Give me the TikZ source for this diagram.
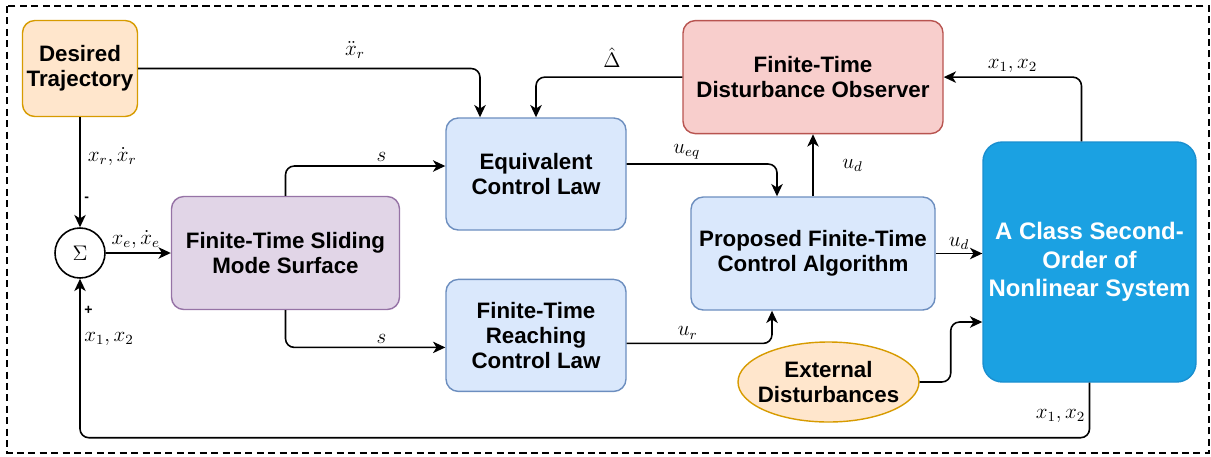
\documentclass[tikz,border=0pt]{standalone}
\usepackage{amsmath}
\usepackage{fontspec}
\setmainfont{Liberation Sans}
\usepackage{tikz}
\usetikzlibrary{arrows.meta, positioning, shapes.geometric, calc}
\definecolor{trajfill}{HTML}{FFE6CC}
\definecolor{trajdraw}{HTML}{D79B00}
\definecolor{smsfill}{HTML}{E1D5E7}
\definecolor{smsdraw}{HTML}{9673A6}
\definecolor{lawfill}{HTML}{DAE8FC}
\definecolor{lawdraw}{HTML}{6C8EBF}
\definecolor{obsfill}{HTML}{F8CECC}
\definecolor{obsdraw}{HTML}{B85450}
\definecolor{sysblue}{HTML}{1BA1E2}
\definecolor{sysdraw}{HTML}{1A8FD0}

\begin{document}
\begin{tikzpicture}[
  box/.style = {
    draw, rounded corners=7pt, line width=0.8pt,
    align=center, inner xsep=1pt, inner ysep=2pt,
    font=\fontsize{12.7}{14.2}\selectfont\bfseries
  },
  trajbox/.style = { box, draw=trajdraw, fill=trajfill, minimum width=2.3cm, minimum height=1.92cm },
  smsbox/.style  = { box, draw=smsdraw, fill=smsfill, minimum width=4.56cm, minimum height=2.26cm },
  lawbox/.style  = { box, draw=lawdraw, fill=lawfill, minimum width=3.6cm, minimum height=2.24cm },
  obsbox/.style  = { box, draw=obsdraw, fill=obsfill, minimum width=5.2cm, minimum height=2.26cm },
  sysbox/.style  = {
    box, draw=sysdraw, fill=sysblue, text=white, rounded corners=11pt,
    minimum width=4.26cm, minimum height=4.8cm,
    font=\fontsize{13.6}{16.1}\selectfont\bfseries
  },
  disturb/.style = {
    ellipse, draw=trajdraw, fill=trajfill, line width=0.8pt,
    minimum width=3.62cm, minimum height=1.6cm, inner xsep=-4pt, inner ysep=0pt,
    align=center, font=\fontsize{12.7}{14.2}\selectfont\bfseries
  },
  sumnode/.style = { circle, draw, line width=0.9pt, minimum size=1cm, inner sep=0pt },
  lbl/.style = { font=\large, inner sep=2pt },
  sgn/.style = { font=\footnotesize\bfseries, inner sep=2pt },
  arr/.style = { -{Stealth[length=7pt,width=6.5pt,inset=2pt]}, line width=0.9pt, rounded corners=5pt }
]

\useasboundingbox (0,0) rectangle (24.22,-9.12);
\draw[dashed, line width=0.7pt, dash pattern=on 4pt off 2.5pt] (0.14,-0.12) rectangle (24.18,-9.06);

\node[sumnode] (sum) at (1.60,-5.06) {\large$\Sigma$};
\node[trajbox, above=2.2cm of sum] (traj) {Desired\\Trajectory};
\node[smsbox, right=1.3cm of sum] (sms) {Finite-Time Sliding\\Mode Surface};
\node[lawbox] (eql) at (10.72,-3.48) {Equivalent\\Control Law};
\node[lawbox, below=0.96cm of eql] (reach) {Finite-Time\\Reaching\\Control Law};
\node[lawbox, minimum width=4.88cm, minimum height=2.26cm] (prop) at (16.26,-5.07) {Proposed Finite-Time\\Control Algorithm};
\node[obsbox, above=1.24cm of prop] (dob) {Finite-Time\\Disturbance Observer};
\node[disturb] (ext) at (16.57,-7.64) {External\\Disturbances};
\node[sysbox] (sys) at (21.79,-5.24) {A Class Second-\\Order of\\Nonlinear System};

\draw[arr] (traj.east) -| node[lbl, pos=0.317, above=3pt] (lxdd) {$\ddot{x}_r$} ([xshift=-1.12cm]eql.north);
\draw[arr] (traj.south) -- node[lbl, pos=0.36, right=2pt] (lxr) {$x_r,\dot{x}_r$} node[sgn, pos=0.745, right] (lminus) {-} (sum.north);
\draw[arr] (sum.east) -- node[lbl, pos=0.46, above] (lxe) {$x_e,\dot{x}_e$} (sms.west);
\draw[arr] (sms.north) |- node[lbl, pos=0.8, above] (ls1) {$s$} ([yshift=0.16cm]eql.west);
\draw[arr] (sms.south) |- node[lbl, pos=0.8, above] (ls2) {$s$} ([yshift=-0.24cm]reach.west);
\draw[arr] (dob.west) -| node[lbl, pos=0.24, above=3pt] (ldelta) {$\hat{\Delta}$} (eql.north);
\draw[arr] ([yshift=0.2cm]eql.east) -| node[lbl, pos=0.2, above] (lueq) {$u_{eq}$} ([xshift=-0.72cm]prop.north);
\draw[arr] ([yshift=-0.16cm]reach.east) -| node[lbl, pos=0.21, above] (lur) {$u_r$} ([xshift=-0.82cm]prop.south);
\draw[arr] (prop.north) -- node[lbl, right=0.5cm] (lud1) {$u_d$} (dob.south);
\draw[arr] (prop.east) -- node[lbl, above] (lud2) {$u_d$} (prop.east -| sys.west);
\draw[arr] (ext.east) -- ++(0.62,0) |- ([yshift=-1.2cm]sys.west);
\draw[arr] ([xshift=-0.16cm]sys.north) |- node[lbl, pos=0.75, above] (lxt) {$x_1,x_2$} (dob.east);
\draw[arr] (sys.south) -- node[lbl, pos=0.6, left] (lxb) {$x_1,x_2$} ++(0,-1.1)
  -| node[lbl, pos=0.81, right] (lxs) {$x_1,x_2$} node[sgn, pos=0.9, right] (lplus) {+} (sum.south);

\end{tikzpicture}
\end{document}
